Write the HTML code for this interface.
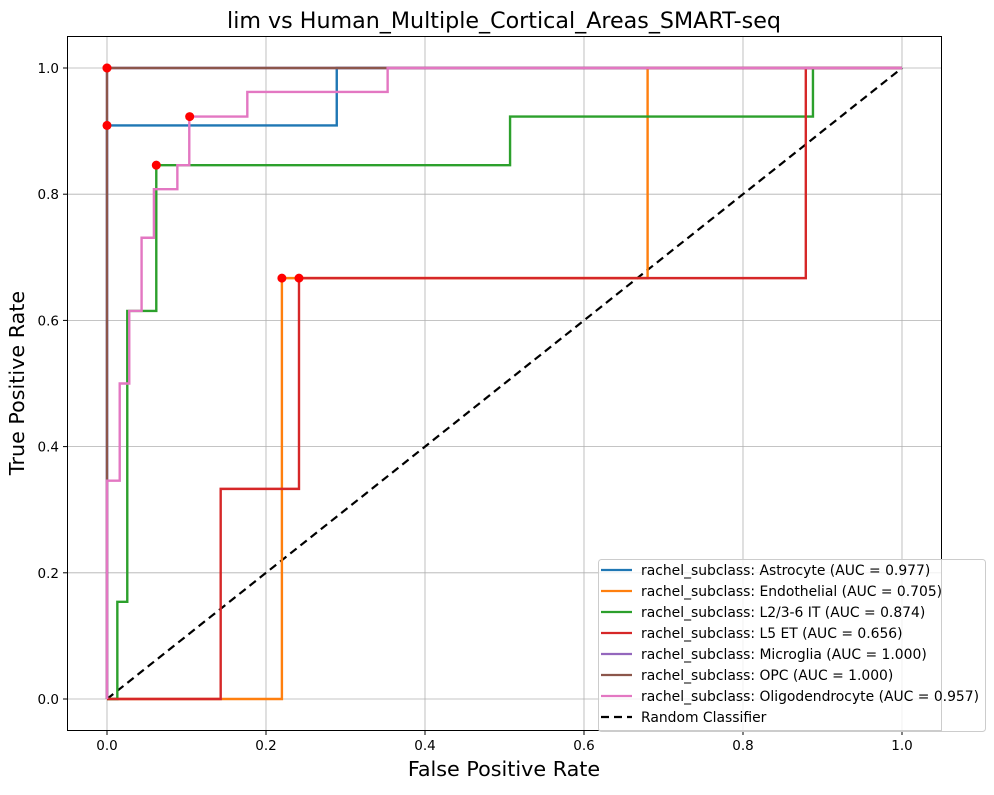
<!DOCTYPE html>
<html><head><meta charset="utf-8"><style>
body{margin:0;background:#fff}
svg text{font-family:"DejaVu Sans","Liberation Sans",sans-serif}
</style></head><body>
<svg id="chart" width="994" height="790" viewBox="0 0 994 790" xmlns="http://www.w3.org/2000/svg">
<rect width="994" height="790" fill="#fff"/>
<text x="504" y="28" font-size="22.2" text-anchor="middle">lim vs Human_Multiple_Cortical_Areas_SMART-seq</text>
<g id="grid"></g>
<g id="ticks"></g>
<g id="series"></g>
<g id="dots"></g>
<rect x="67.5" y="36.5" width="874" height="694" fill="none" stroke="#000" stroke-width="1"/>
<text x="504" y="776" font-size="20.7" text-anchor="middle">False Positive Rate</text>
<text transform="translate(24,383) rotate(-90)" font-size="20.7" text-anchor="middle">True Positive Rate</text>
<g id="legend"></g>
</svg>
<script>
const ticks=[0,0.2,0.4,0.6,0.8,1.0];
const tickLabels=["0.0","0.2","0.4","0.6","0.8","1.0"];
const names=["rachel_subclass: Astrocyte (AUC = 0.977)","rachel_subclass: Endothelial (AUC = 0.705)","rachel_subclass: L2/3-6 IT (AUC = 0.874)","rachel_subclass: L5 ET (AUC = 0.656)","rachel_subclass: Microglia (AUC = 1.000)","rachel_subclass: OPC (AUC = 1.000)","rachel_subclass: Oligodendrocyte (AUC = 0.957)"];
const colors=["#1f77b4","#ff7f0e","#2ca02c","#d62728","#9467bd","#8c564b","#e377c2"];
const fprAstro=[0,0,0.289,0.289,1];
const tprAstro=[0,0.909,0.909,1,1];
const fprEndo=[0,0.22,0.22,0.68,0.68,1];
const tprEndo=[0,0,0.667,0.667,1,1];
const fprL23=[0,0.013,0.013,0.0255,0.0255,0.062,0.062,0.507,0.507,0.888,0.888,1];
const tprL23=[0,0,0.154,0.154,0.615,0.615,0.846,0.846,0.923,0.923,1,1];
const fprL5=[0,0.143,0.143,0.2415,0.2415,0.879,0.879,1];
const tprL5=[0,0,0.333,0.333,0.667,0.667,1,1];
const fprMicro=[0,0,1];
const tprMicro=[0,1,1];
const fprOPC=[0,0,1];
const tprOPC=[0,1,1];
const fprOligo=[0,0,0.016,0.016,0.028,0.028,0.0435,0.0435,0.059,0.059,0.0885,0.0885,0.1035,0.1035,0.1765,0.1765,0.353,0.353,1];
const tprOligo=[0,0.346,0.346,0.5,0.5,0.615,0.615,0.731,0.731,0.808,0.808,0.846,0.846,0.923,0.923,0.962,0.962,1,1];
const dotFpr=[0,0,0.062,0.104,0.22,0.2415,0];
const dotTpr=[1,0.909,0.846,0.923,0.667,0.667,1];
const fprs=[fprAstro,fprEndo,fprL23,fprL5,fprMicro,fprOPC,fprOligo];
const tprs=[tprAstro,tprEndo,tprL23,tprL5,tprMicro,tprOPC,tprOligo];
const NS="http://www.w3.org/2000/svg";
const X=v=>107+795*v, Y=v=>699-631*v;
function mk(tag,attrs,parent){const e=document.createElementNS(NS,tag);for(const k in attrs)e.setAttribute(k,attrs[k]);parent.appendChild(e);return e;}
const grid=document.getElementById('grid'),tk=document.getElementById('ticks');
ticks.forEach((t,i)=>{
 let g=mk('line',{x1:X(t),x2:X(t),y1:36.5,y2:730.5,stroke:'#b0b0b0','stroke-width':0.8},grid);
 
 
 g=mk('line',{x1:67.5,x2:941.5,y1:Y(t),y2:Y(t),stroke:'#b0b0b0','stroke-width':0.8},grid);
 
 
 mk('line',{x1:X(t),x2:X(t),y1:730.5,y2:735,stroke:'#000'},tk);
 mk('line',{x1:63,x2:67.5,y1:Y(t),y2:Y(t),stroke:'#000'},tk);
 let tx=mk('text',{x:X(t),y:750,'font-size':13.5,'text-anchor':'middle'},tk);tx.textContent=tickLabels[i];
 
 
 tx=mk('text',{x:59,y:Y(t)+5,'font-size':13.5,'text-anchor':'end'},tk);tx.textContent=tickLabels[i];
 
 
});
const ser=document.getElementById('series');
let d=mk('line',{x1:X(0),y1:Y(0),x2:X(1),y2:Y(1),stroke:'#000','stroke-width':2.2,'stroke-dasharray':'8,5'},ser);


fprs.forEach((f,i)=>{
 const pts=f.map((v,j)=>X(v)+','+Y(tprs[i][j])).join(' ');
 const p=mk('polyline',{points:pts,fill:'none',stroke:colors[i],'stroke-width':2.4},ser);
 
 
});
const dots=document.getElementById('dots');
dotFpr.forEach((f,i)=>{
 const c=mk('circle',{cx:X(f),cy:Y(dotTpr[i]),r:4.5,fill:'#ff0000'},dots);
 
 
});
const lg=document.getElementById('legend');
mk('rect',{x:598.5,y:559.5,width:387,height:172,rx:3,fill:'#fff','fill-opacity':0.8,stroke:'#ccc'},lg);
const labels=names.concat(["Random Classifier"]);
labels.forEach((n,i)=>{
 const y=570+21*i;
 const l=mk('line',{x1:601,x2:632,y1:y,y2:y,stroke:i<7?colors[i]:'#000','stroke-width':2.2},lg);
 if(i==7)l.setAttribute('stroke-dasharray','8,5');
 
 
 const t=mk('text',{x:641,y:y+5,'font-size':13.9},lg);t.textContent=n;
 
 
});
</script>
</body></html>
